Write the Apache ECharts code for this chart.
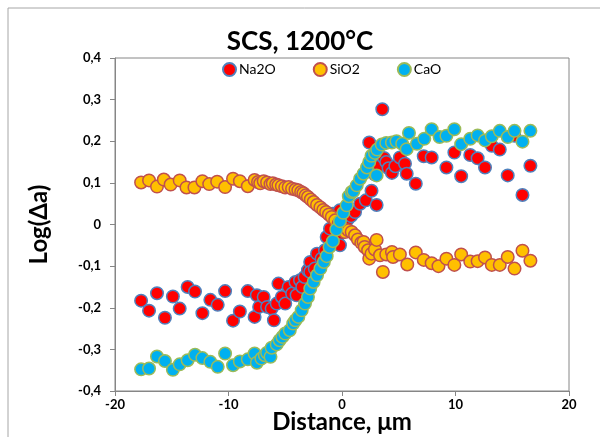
<!DOCTYPE html>
<html>
<head>
<meta charset="utf-8">
<script src="https://cdn.jsdelivr.net/npm/echarts@6/dist/echarts.min.js"></script>
<style>html,body{margin:0;padding:0;background:#fff}#c{width:600px;height:437px}</style>
</head>
<body>
<div id="c"></div>
<script>
const titleText = 'SCS, 1200°C';
const xTitle = 'Distance, \u03bcm';
const yTitle = 'Log(\u0394a)';
const seriesNames = ['Na2O', 'SiO2', 'CaO'];

const naX = [-17.7,-17.0,-16.3,-15.6,-14.9,-14.3,-13.6,-12.95,-12.3,-11.6,-10.95,-10.3,-9.6,-9.0,-8.3,
  -7.7,-7.5,-7.3,-6.9,-6.6,-6.2,-6.0,-5.75,-5.6,-5.3,-5.0,-4.7,-4.4,-4.1,-4.0,-3.7,-3.5,-3.3,-3.0,-2.8,-2.8,-2.4,-2.2,-1.8,-1.5,-1.35,-1.06,-0.8,-0.6,-0.3,-0.2,-0.18,
  0.2,0.5,0.8,1.15,1.6,2.1,2.3,2.4,2.6,2.9,3.05,3.3,3.55,3.7,3.9,4.1,4.4,4.7,5.1,5.55,5.7,6.5,7.2,7.9,9.2,9.9,10.5,11.3,11.95,12.6,13.2,13.9,14.6,15.2,15.9,16.6];
const naY = [-0.183,-0.207,-0.165,-0.224,-0.173,-0.202,-0.150,-0.161,-0.213,-0.181,-0.193,-0.160,-0.231,-0.209,-0.160,
  -0.222,-0.170,-0.198,-0.174,-0.198,-0.202,-0.230,-0.190,-0.142,-0.174,-0.190,-0.150,-0.166,-0.138,-0.170,-0.134,-0.150,-0.126,-0.110,-0.090,-0.114,-0.106,-0.070,-0.082,-0.062,-0.030,-0.010,0.026,0.026,-0.026,0.034,-0.050,
  0.005,0.012,0.020,0.030,0.050,0.058,0.140,0.197,0.081,0.120,0.047,0.140,0.277,0.160,0.150,0.135,0.124,0.140,0.161,0.146,0.122,0.098,0.164,0.161,0.137,0.173,0.116,0.167,0.159,0.137,0.189,0.180,0.118,0.213,0.071,0.141];

const siX = [-17.7,-17.0,-16.3,-15.7,-15.1,-14.3,-13.7,-13.0,-12.3,-11.7,-11.0,-10.3,-9.6,-9.0,-8.3,
  -7.7,-7.4,-7.2,-6.9,-6.6,-6.3,-6.1,-5.8,-5.6,-5.3,-5.0,-4.7,-4.4,-4.1,-3.85,-3.6,-3.4,-3.2,-3.0,-2.75,-2.5,-2.2,-1.9,-1.65,-1.4,-1.15,-0.9,-0.6,-0.3,0.0,
  0.26,0.55,0.85,1.15,1.4,1.7,1.9,2.0,2.3,2.4,2.6,2.9,3.05,3.35,3.6,3.9,4.4,4.5,5.1,5.75,6.5,7.2,7.9,8.5,9.2,9.9,10.5,11.3,11.95,12.6,13.2,13.9,14.6,15.2,15.9,16.6];
const siY = [0.101,0.106,0.091,0.108,0.096,0.106,0.089,0.089,0.104,0.097,0.103,0.090,0.110,0.104,0.092,
  0.107,0.102,0.099,0.104,0.101,0.097,0.099,0.096,0.094,0.092,0.089,0.090,0.086,0.084,0.082,0.078,0.075,0.070,0.066,0.060,0.054,0.047,0.041,0.035,0.030,0.024,0.018,0.010,0.002,-0.008,
  -0.018,-0.014,-0.018,-0.026,-0.036,-0.044,-0.042,-0.054,-0.062,-0.082,-0.070,-0.060,-0.037,-0.074,-0.114,-0.072,-0.066,-0.078,-0.072,-0.096,-0.067,-0.085,-0.093,-0.100,-0.082,-0.097,-0.072,-0.089,-0.088,-0.079,-0.097,-0.097,-0.078,-0.106,-0.063,-0.087];

const caX = [-17.7,-17.0,-16.3,-15.6,-14.9,-14.3,-13.6,-12.95,-12.3,-11.6,-10.95,-10.3,-9.6,-9.0,-8.3,
  -7.7,-7.5,-7.1,-6.8,-6.6,-6.3,-6.2,-5.75,-5.5,-5.25,-5.0,-4.6,-4.3,-4.1,-3.85,-3.55,-3.26,-3.0,-2.8,-2.5,-2.2,-1.9,-1.6,-1.35,-1.1,-0.8,-0.5,-0.18,
  0.11,0.41,0.6,0.85,1.0,1.3,1.6,1.9,2.2,2.4,2.6,2.9,3.05,3.1,3.5,3.9,4.4,4.8,5.3,5.7,5.9,6.6,7.25,7.9,8.6,9.2,9.9,10.5,11.3,11.95,12.6,13.2,13.9,14.6,15.2,15.9,16.6];
const caY = [-0.348,-0.346,-0.317,-0.328,-0.349,-0.336,-0.326,-0.313,-0.321,-0.330,-0.342,-0.310,-0.338,-0.329,-0.324,
  -0.310,-0.332,-0.322,-0.314,-0.308,-0.318,-0.296,-0.288,-0.278,-0.270,-0.262,-0.254,-0.238,-0.230,-0.222,-0.206,-0.190,-0.174,-0.154,-0.138,-0.122,-0.106,-0.090,-0.076,-0.054,-0.040,-0.012,0.008,
  0.028,0.046,0.068,0.078,0.080,0.094,0.110,0.122,0.137,0.150,0.165,0.172,0.118,0.180,0.192,0.196,0.197,0.200,0.194,0.181,0.220,0.194,0.206,0.229,0.210,0.213,0.229,0.193,0.206,0.214,0.202,0.212,0.225,0.210,0.225,0.199,0.225];

const xTicks = [-20, -10, 0, 10, 20];
const yTicks = [-0.4, -0.3, -0.2, -0.1, 0, 0.1, 0.2, 0.3, 0.4];

const zip = (xs, ys) => xs.map((x, i) => [x, ys[i]]);
const font = 'Lato, "Liberation Sans", sans-serif';
const axisGray = '#868686';

const chart = echarts.init(document.getElementById('c'), null, {renderer: 'canvas'});
chart.setOption({
  animation: false,
  backgroundColor: '#fff',
  title: {
    text: titleText, left: 'center', top: 24,
    textStyle: {fontFamily: font, fontSize: 26, fontWeight: 'bold', color: '#000'}
  },
  legend: {
    data: seriesNames, left: 217, top: 57, icon: 'circle',
    itemWidth: 13, itemHeight: 13, itemGap: 37,
    textStyle: {fontFamily: font, fontSize: 14, color: '#000', padding: [0,0,0,-2]}
  },
  graphic: [{
    type: 'rect', silent: true, z: -10,
    shape: {x: 8, y: 8, width: 700, height: 600},
    style: {fill: 'none', stroke: '#a6a6a6', lineWidth: 1}
  }],
  grid: {left: 115, right: 31, top: 58, bottom: 46, show: true, borderColor: axisGray, borderWidth: 1,
    outerBoundsMode: 'none', containLabel: false},
  xAxis: {
    type: 'value', min: xTicks[0], max: xTicks[xTicks.length-1], interval: 10,
    name: xTitle, nameLocation: 'middle', nameGap: 19, nameMoveOverlap: false,
    nameTextStyle: {fontFamily: font, fontSize: 24, fontWeight: 'bold', color: '#000'},
    axisLine: {show: true, onZero: false, lineStyle: {color: axisGray}},
    axisTick: {show: true, length: 5, lineStyle: {color: axisGray}},
    splitLine: {show: false},
    axisLabel: {fontFamily: font, fontSize: 13, fontWeight: 'bold', color: '#000', margin: 7}
  },
  yAxis: {
    type: 'value', min: yTicks[0], max: yTicks[yTicks.length-1], interval: 0.1,
    name: yTitle, nameLocation: 'middle', nameGap: 64, nameMoveOverlap: false,
    nameTextStyle: {fontFamily: font, fontSize: 24, fontWeight: 'bold', color: '#000'},
    axisLine: {show: true, onZero: false, lineStyle: {color: axisGray}},
    axisTick: {show: true, length: 5, lineStyle: {color: axisGray}},
    splitLine: {show: false},
    axisLabel: {fontFamily: font, fontSize: 13, fontWeight: 'bold', color: '#000', margin: 14,
      formatter: v => (Math.abs(v) < 1e-9 ? '0' : v.toFixed(1).replace('.', ','))}
  },
  series: [
    {name: seriesNames[0], type: 'scatter', data: zip(naX, naY), symbolSize: 12.5,
     itemStyle: {color: '#FF0000', borderColor: '#4F81BD', borderWidth: 1.5, opacity: 1}},
    {name: seriesNames[1], type: 'scatter', data: zip(siX, siY), symbolSize: 12.5,
     itemStyle: {color: '#FFC000', borderColor: '#C0504D', borderWidth: 1.5, opacity: 1}},
    {name: seriesNames[2], type: 'scatter', data: zip(caX, caY), symbolSize: 12.5,
     itemStyle: {color: '#00B0F0', borderColor: '#9BBB59', borderWidth: 1.5, opacity: 1}}
  ]
});
</script>
</body>
</html>
